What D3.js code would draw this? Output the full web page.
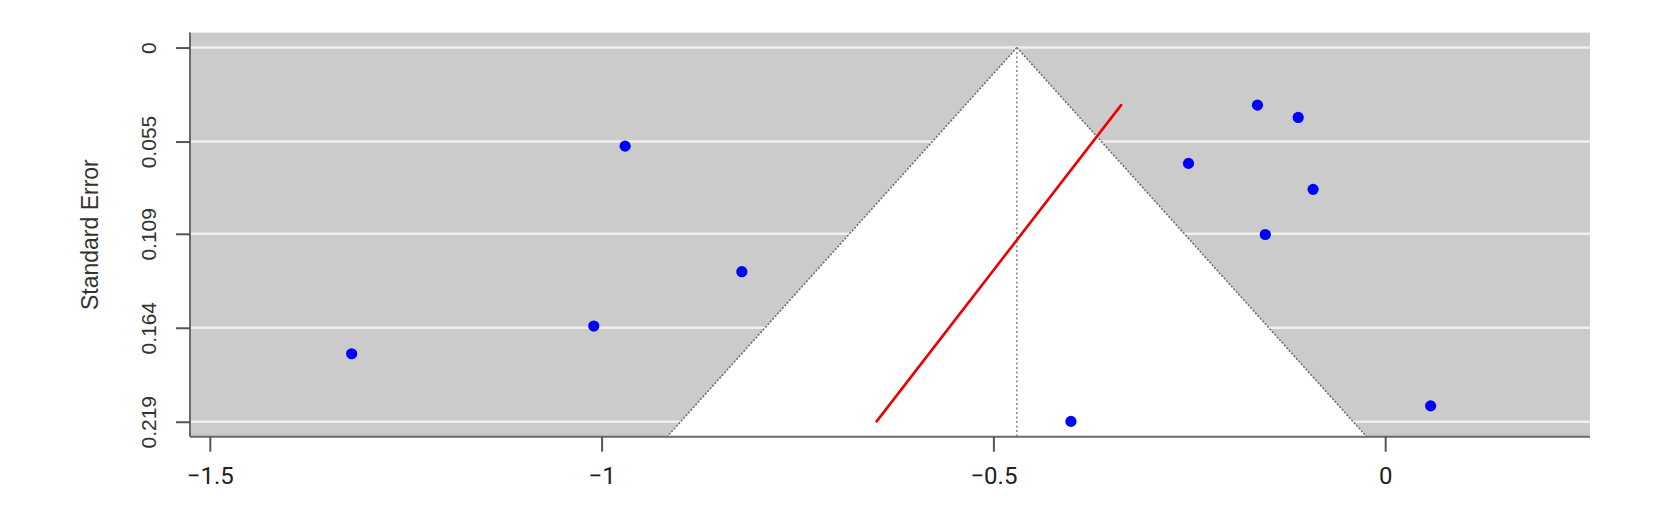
<!DOCTYPE html>
<html>
<head>
<meta charset="utf-8">
<script src="https://cdn.jsdelivr.net/npm/d3@7"></script>
<style>
  html, body { margin: 0; padding: 0; background: #fff; }
  svg { display: block; }
</style>
</head>
<body>
<svg id="chart" width="1653" height="509"></svg>
<script>
// ---- data ----
const effects = [-1.319, -1.010, -0.970, -0.821, -0.401, -0.251, -0.163, -0.153, -0.111, -0.092, 0.058];
const stdErrors = [0.1792, 0.1630, 0.0577, 0.1312, 0.2188, 0.0678, 0.0337, 0.1094, 0.0409, 0.0830, 0.2097];
const pooledEstimate = -0.470;
const regLineSE = [0.0337, 0.2188];
const regLineX = [-0.337, -0.649];
const xTickValues = [-1.5, -1, -0.5, 0];
const xTickLabels = ["\u22121.5", "\u22121", "\u22120.5", "0"];
const yTickValues = [0, 0.055, 0.109, 0.164, 0.219];
const yTickLabels = ["0", "0.055", "0.109", "0.164", "0.219"];
const xLim = [-1.5253, 0.2614];
const yLim = [-0.00876, 0.22776];
const yTitle = "Standard Error";

// ---- layout ----
const plot = { left: 190, right: 1590, top: 32.6, bottom: 436.7 };
const svg = d3.select("#chart");
const x = d3.scaleLinear().domain(xLim).range([plot.left, plot.right]);
const y = d3.scaleLinear().domain(yLim).range([plot.top, plot.bottom]);

const defs = svg.append("defs");
defs.append("clipPath").attr("id", "clip").append("rect")
  .attr("x", plot.left).attr("y", plot.top)
  .attr("width", plot.right - plot.left).attr("height", plot.bottom - plot.top);

// background
svg.append("rect")
  .attr("x", plot.left).attr("y", plot.top)
  .attr("width", plot.right - plot.left).attr("height", plot.bottom - plot.top)
  .attr("fill", "#cbcbcb");

const g = svg.append("g").attr("clip-path", "url(#clip)");

// horizontal white grid lines
g.selectAll("line.grid").data(yTickValues).join("line")
  .attr("class", "grid")
  .attr("x1", plot.left).attr("x2", plot.right)
  .attr("y1", d => y(d)).attr("y2", d => y(d))
  .attr("stroke", "#f0f0f0").attr("stroke-width", 2.5);

// funnel (white region)
const seBottom = yLim[1];
const funnelPts = [
  [pooledEstimate, 0],
  [pooledEstimate - 1.96 * seBottom, seBottom],
  [pooledEstimate + 1.96 * seBottom, seBottom]
];
g.append("polygon")
  .attr("points", funnelPts.map(p => [x(p[0]), y(p[1])].join(",")).join(" "))
  .attr("fill", "#ffffff");

// funnel edges dotted
[funnelPts[1], funnelPts[2]].forEach(p => {
  g.append("line")
    .attr("x1", x(funnelPts[0][0])).attr("y1", y(funnelPts[0][1]))
    .attr("x2", x(p[0])).attr("y2", y(p[1]))
    .attr("stroke", "#707070").attr("stroke-width", 1.6)
    .attr("stroke-dasharray", "2,1.6");
});

// vertical estimate dotted line
g.append("line")
  .attr("x1", x(pooledEstimate)).attr("x2", x(pooledEstimate))
  .attr("y1", y(0)).attr("y2", y(seBottom))
  .attr("stroke", "#8a8a8a").attr("stroke-width", 1.6)
  .attr("stroke-dasharray", "2,2.5");

// red regression line
g.append("line")
  .attr("x1", x(regLineX[0])).attr("y1", y(regLineSE[0]))
  .attr("x2", x(regLineX[1])).attr("y2", y(regLineSE[1]))
  .attr("stroke", "#ee0000").attr("stroke-width", 2.6).attr("stroke-linecap", "round");

// points
g.selectAll("circle.pt").data(effects.map((e, i) => ({ e, se: stdErrors[i] }))).join("circle")
  .attr("class", "pt")
  .attr("cx", d => x(d.e)).attr("cy", d => y(d.se))
  .attr("r", 5.6).attr("fill", "#0000ff");

// L-shaped box
svg.append("line")
  .attr("x1", plot.left).attr("x2", plot.left)
  .attr("y1", plot.top).attr("y2", plot.bottom)
  .attr("stroke", "#6a6a6a").attr("stroke-width", 2);
svg.append("line")
  .attr("x1", plot.left).attr("x2", plot.right)
  .attr("y1", plot.bottom).attr("y2", plot.bottom)
  .attr("stroke", "#6a6a6a").attr("stroke-width", 2);

// x axis
const xAxis = svg.append("g")
  .attr("transform", `translate(0,${plot.bottom})`)
  .call(d3.axisBottom(x).tickValues(xTickValues).tickSize(15)
    .tickFormat((d, i) => xTickLabels[i]));
xAxis.select(".domain").remove();
xAxis.selectAll(".tick line").attr("stroke", "#555").attr("stroke-width", 2);
xAxis.selectAll(".tick text")
  .attr("y", 47.3).attr("dy", null)
  .attr("fill", "#222")
  .style("font-family", "Roboto, 'Liberation Sans', sans-serif")
  .style("font-size", "24px");

// y axis
const yAxis = svg.append("g")
  .attr("transform", `translate(${plot.left},0)`)
  .call(d3.axisLeft(y).tickValues(yTickValues).tickSize(14)
    .tickFormat((d, i) => yTickLabels[i]));
yAxis.select(".domain").remove();
yAxis.selectAll(".tick line").attr("stroke", "#555").attr("stroke-width", 2);
yAxis.selectAll(".tick text")
  .attr("x", null).attr("dy", null)
  .attr("transform", "translate(-34.5,0) rotate(-90)")
  .attr("text-anchor", "middle")
  .attr("fill", "#333")
  .style("font-family", "'Liberation Sans', Arial, sans-serif")
  .style("font-size", "21px");

// y title
svg.append("text")
  .attr("transform", `translate(98,${(plot.top + plot.bottom) / 2}) rotate(-90)`)
  .attr("text-anchor", "middle")
  .attr("fill", "#333")
  .style("font-family", "'Liberation Sans', Arial, sans-serif")
  .style("font-size", "23px")
  .text(yTitle);
</script>
</body>
</html>
